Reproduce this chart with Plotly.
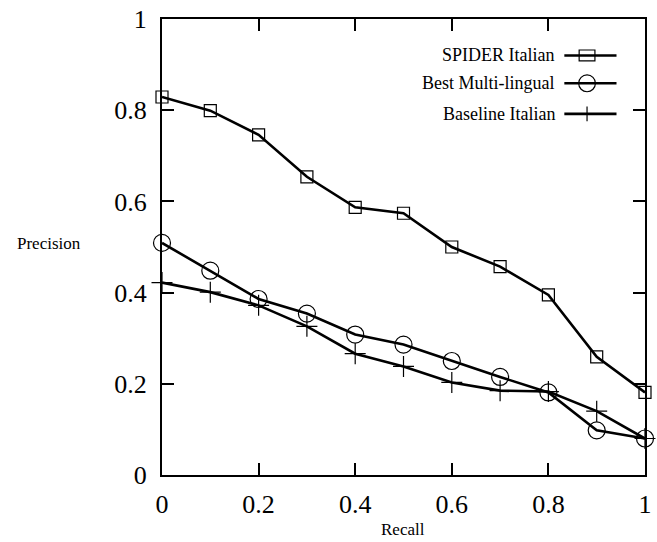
import plotly.graph_objects as go

recall = [0.0, 0.1, 0.2, 0.3, 0.4, 0.5, 0.6, 0.7, 0.8, 0.9, 1.0]
spider_italian = [0.829, 0.799, 0.746, 0.654, 0.587, 0.574, 0.500, 0.457, 0.395, 0.259, 0.181]
best_multilingual = [0.509, 0.448, 0.386, 0.354, 0.308, 0.286, 0.250, 0.215, 0.181, 0.098, 0.080]
baseline_italian = [0.422, 0.401, 0.372, 0.326, 0.266, 0.238, 0.203, 0.185, 0.183, 0.140, 0.080]

series_names = ["SPIDER Italian", "Best Multi-lingual", "Baseline Italian"]
x_ticks = [0, 0.2, 0.4, 0.6, 0.8, 1]
x_tick_labels = ["0", "0.2", "0.4", "0.6", "0.8", "1"]
y_ticks = [0, 0.2, 0.4, 0.6, 0.8, 1]
y_tick_labels = ["0", "0.2", "0.4", "0.6", "0.8", "1"]

SERIF = "Liberation Serif, Times New Roman, serif"

fig = go.Figure()
specs = [
    (spider_italian, "square-open", 12),
    (best_multilingual, "circle-open", 17),
    (baseline_italian, "cross-thin-open", 15),
]
for (vals, sym, sz), name in zip(specs, series_names):
    fig.add_trace(go.Scatter(
        x=recall, y=vals, name=name, mode="lines+markers",
        line=dict(color="black", width=2.6),
        marker=dict(symbol=sym, size=sz, color="black",
                    line=dict(color="black", width=1.2)),
        cliponaxis=False, showlegend=False,
    ))

axis_common = dict(
    showline=True, linecolor="black", linewidth=2, mirror="allticks",
    ticks="inside", ticklen=12, tickwidth=2, tickcolor="black",
    showgrid=False, zeroline=False, ticklabeloverflow="allow",
    tickfont=dict(family=SERIF, size=26, color="black"),
)
fig.update_xaxes(range=[0, 1], tickvals=x_ticks, ticktext=x_tick_labels,
                 ticklabelstandoff=5, **axis_common)
fig.update_yaxes(range=[0, 1], tickvals=y_ticks, ticktext=y_tick_labels,
                 ticklabelstandoff=8, **axis_common)

# Axis titles
fig.add_annotation(text="Precision", xref="paper", yref="paper", x=-0.233, y=0.507,
                   xanchor="center", yanchor="middle", showarrow=False,
                   font=dict(family=SERIF, size=17, color="black"))
fig.add_annotation(text="Recall", xref="paper", yref="paper", x=0.498, y=-0.12,
                   xanchor="center", yanchor="middle", showarrow=False,
                   font=dict(family=SERIF, size=17, color="black"))

# Custom legend (text on left, sample on right)
leg_y = [0.920, 0.859, 0.792]
x_text = 0.818
x0, x1 = 0.833, 0.941
xc = 0.880
for name, yy in zip(series_names, leg_y):
    fig.add_annotation(text=name, xref="paper", yref="paper", x=x_text, y=yy,
                       xanchor="right", yanchor="middle", showarrow=False,
                       font=dict(family=SERIF, size=18, color="black"))
    fig.add_shape(type="line", xref="paper", yref="paper", x0=x0, x1=x1, y0=yy, y1=yy,
                  line=dict(color="black", width=2.6))
# legend symbols (pixel sizes converted to paper units)
pw, ph = 490.0, 459.0
def px_x(p):
    return p / pw
def px_y(p):
    return p / ph
ya = leg_y[0]
fig.add_shape(type="rect", xref="paper", yref="paper",
              x0=xc - px_x(8), x1=xc + px_x(8), y0=ya - px_y(5.5), y1=ya + px_y(5.5),
              line=dict(color="black", width=1.2), fillcolor="rgba(0,0,0,0)")
yb = leg_y[1]
fig.add_shape(type="circle", xref="paper", yref="paper",
              x0=xc - px_x(8.5), x1=xc + px_x(8.5), y0=yb - px_y(8.5), y1=yb + px_y(8.5),
              line=dict(color="black", width=1.2))
yc = leg_y[2]
fig.add_shape(type="line", xref="paper", yref="paper",
              x0=xc, x1=xc, y0=yc - px_y(7.5), y1=yc + px_y(7.5),
              line=dict(color="black", width=1.2))

fig.update_layout(
    width=657, height=542,
    margin=dict(l=162, r=5, t=16, b=67),
    paper_bgcolor="white", plot_bgcolor="white",
    showlegend=False,
)

# remove the default 8px page margin so the figure fills the window exactly
fig.write_html("out.html", config={"displayModeBar": False},
               post_script="document.body.style.margin='0';")
